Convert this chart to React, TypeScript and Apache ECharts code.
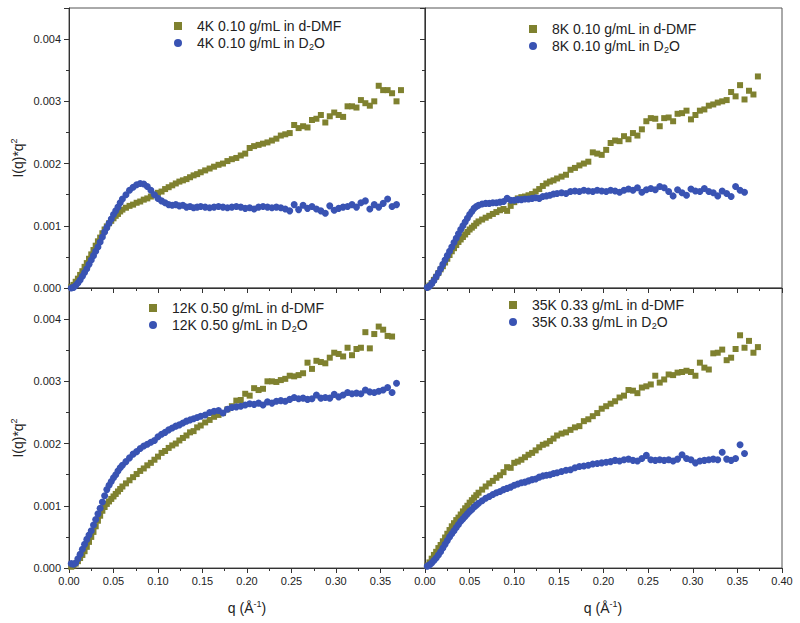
import React, { useEffect, useRef } from "react";
import * as echarts from "echarts";

// Shared q grid (Å^-1)
const Q = [
  0.0025, 0.005, 0.0075, 0.01, 0.0125, 0.015, 0.0175, 0.02, 0.0225, 0.025, 0.0275, 0.03,
  0.0325, 0.035, 0.0375, 0.04, 0.0425, 0.045, 0.0475, 0.05, 0.0525, 0.055, 0.0575, 0.06,
  0.064, 0.068, 0.072, 0.076, 0.08, 0.084, 0.088, 0.092, 0.096, 0.1, 0.104, 0.108,
  0.112, 0.116, 0.12, 0.124, 0.128, 0.132, 0.136, 0.14, 0.144, 0.148,
  0.153, 0.158, 0.163, 0.168, 0.173, 0.178, 0.183, 0.188, 0.193, 0.198, 0.203, 0.208,
  0.213, 0.218, 0.223, 0.228, 0.233, 0.238, 0.243, 0.248, 0.253, 0.258, 0.263, 0.268,
  0.273, 0.278, 0.283, 0.288, 0.293, 0.298, 0.303, 0.308, 0.313, 0.318, 0.323, 0.328,
  0.333, 0.338, 0.343, 0.348, 0.353, 0.358, 0.363, 0.368, 0.373,
];

// 4K 0.10 g/mL
const K4_DMF = [
  0.00002, 0.00005, 0.0001, 0.00015, 0.00021, 0.00027, 0.00034, 0.0004, 0.00047, 0.00054, 0.00061, 0.00068,
  0.00075, 0.00081, 0.00088, 0.00094, 0.00099, 0.00104, 0.00108, 0.00112, 0.00116, 0.00119, 0.00123, 0.00126,
  0.00129, 0.00132, 0.00134, 0.00137, 0.00139, 0.00142, 0.00144, 0.00147, 0.0015, 0.00153, 0.00155, 0.00159,
  0.00162, 0.00165, 0.00168, 0.00171, 0.00173, 0.00175, 0.00178, 0.00181, 0.00183, 0.00186,
  0.00189, 0.00192, 0.00195, 0.00198, 0.002, 0.00204, 0.00207, 0.00209, 0.00213, 0.00216,
  0.00225, 0.00228, 0.0023, 0.00232, 0.00234, 0.00237, 0.0024, 0.00245, 0.00247, 0.00249,
  0.00262, 0.00257, 0.0026, 0.00258, 0.0027, 0.00272, 0.00278, 0.00266, 0.00276, 0.00282,
  0.00278, 0.00275, 0.00292, 0.00292, 0.0029, 0.00302, 0.00297, 0.00293, 0.003, 0.00325,
  0.00318, 0.00318, 0.00313, 0.003, 0.00318,
];
const K4_D2O = [
  0, 0.00001, 0.00004, 0.00008, 0.00013, 0.00019, 0.00025, 0.00031, 0.00038, 0.00045, 0.00052, 0.00059,
  0.00066, 0.00074, 0.00082, 0.0009, 0.00097, 0.00104, 0.00111, 0.00118, 0.00124, 0.0013, 0.00137, 0.00143,
  0.0015, 0.00157, 0.00162, 0.00166, 0.00168, 0.00167, 0.00163, 0.00157, 0.0015, 0.00144, 0.0014, 0.00137,
  0.00134, 0.00133, 0.00134, 0.00132, 0.00133, 0.0013, 0.00131, 0.00129, 0.0013, 0.00131,
  0.0013, 0.00129, 0.0013, 0.00131, 0.0013, 0.00129, 0.0013, 0.00131, 0.0013, 0.00128,
  0.00129, 0.00127, 0.0013, 0.00131, 0.0013, 0.00129, 0.0013, 0.00129, 0.00127, 0.00124,
  0.00134, 0.00126, 0.00133, 0.00128, 0.00131, 0.00127, 0.00124, 0.0012, 0.00132, 0.00125,
  0.00128, 0.0013, 0.00131, 0.00134, 0.0013, 0.00137, 0.0014, 0.00127, 0.00134, 0.0013,
  0.00136, 0.00143, 0.00131, 0.00134,
];

// 8K 0.10 g/mL
const K8_DMF = [
  0.00001, 0.00004, 0.00008, 0.00013, 0.00018, 0.00024, 0.0003, 0.00035, 0.00041, 0.00047, 0.00053, 0.00059,
  0.00064, 0.00069, 0.00074, 0.00078, 0.00082, 0.00086, 0.0009, 0.00094, 0.00097, 0.001, 0.00104, 0.00107,
  0.0011, 0.00113, 0.00116, 0.00119, 0.00122, 0.00125, 0.00127, 0.00124, 0.00132, 0.00138, 0.00144, 0.00146,
  0.00147, 0.00149, 0.00151, 0.00155, 0.00159, 0.00164, 0.00168, 0.00171, 0.00173, 0.00176,
  0.00179, 0.00182, 0.0019, 0.00193, 0.00197, 0.002, 0.00203, 0.00218, 0.00216, 0.00214,
  0.00222, 0.00233, 0.00237, 0.00236, 0.00244, 0.00239, 0.00249, 0.00245, 0.00255, 0.00268,
  0.00273, 0.00272, 0.0026, 0.00273, 0.00274, 0.00268, 0.0028, 0.00281, 0.00285, 0.00271,
  0.00278, 0.00285, 0.00287, 0.00293, 0.00295, 0.00298, 0.003, 0.00302, 0.00315, 0.00308,
  0.00326, 0.00303, 0.00317, 0.00311, 0.0034,
];
const K8_D2O = [
  0.00001, 0.00003, 0.00007, 0.00012, 0.00018, 0.00024, 0.00031, 0.00038, 0.00045, 0.00052, 0.00059, 0.00066,
  0.00073, 0.0008, 0.00087, 0.00094, 0.001, 0.00106, 0.00112, 0.00118, 0.00123, 0.00128, 0.00131, 0.00133,
  0.00135, 0.00136, 0.00136, 0.00137, 0.00137, 0.00138, 0.00139, 0.00144, 0.00141, 0.00141, 0.00142, 0.00142,
  0.00143, 0.00143, 0.00144, 0.00145, 0.00144, 0.00147, 0.00148, 0.00149, 0.00151, 0.00152,
  0.00153, 0.00152, 0.00155, 0.00156, 0.00155, 0.00157, 0.00156, 0.00155, 0.00157, 0.00156,
  0.00155, 0.00157, 0.00156, 0.00154, 0.00157, 0.00159, 0.00157, 0.00161, 0.00154, 0.00158,
  0.0016, 0.00158, 0.00163, 0.00161, 0.00155, 0.00148, 0.00158, 0.00153, 0.00149, 0.00159,
  0.00156, 0.00155, 0.0016, 0.00155, 0.00153, 0.00148, 0.00156, 0.00152, 0.00147, 0.00163,
  0.00157, 0.00154,
];

// 12K 0.50 g/mL
const K12_DMF = [
  0.00002, 0.00004, 0.00007, 0.00011, 0.00016, 0.00021, 0.00027, 0.00034, 0.00042, 0.0005, 0.00058, 0.00067,
  0.00076, 0.00084, 0.00092, 0.00098, 0.00103, 0.00107, 0.00111, 0.00115, 0.00119, 0.00123, 0.00127, 0.00131,
  0.00136, 0.00141, 0.00146, 0.00151, 0.00156, 0.0016, 0.00165, 0.00169, 0.00174, 0.00179, 0.00185, 0.00188,
  0.00193, 0.00197, 0.002, 0.00205, 0.00209, 0.00213, 0.00218, 0.0022, 0.00226, 0.00229,
  0.00234, 0.00238, 0.00243, 0.00246, 0.00249, 0.00255, 0.0026, 0.00269, 0.0027, 0.0028,
  0.00277, 0.00289, 0.00286, 0.00288, 0.003, 0.003, 0.00299, 0.00302, 0.00304, 0.00309,
  0.00308, 0.0031, 0.00313, 0.0033, 0.0032, 0.00333, 0.00331, 0.00329, 0.00338, 0.00346,
  0.00344, 0.0034, 0.00354, 0.00342, 0.00352, 0.00354, 0.00379, 0.00353, 0.00376, 0.00388,
  0.00383, 0.00373, 0.00372,
];
const K12_D2O = [
  0.00007, 0.00006, 0.00008, 0.00015, 0.00022, 0.0003, 0.00038, 0.00046, 0.00053, 0.0006, 0.00069, 0.00078,
  0.00087, 0.00096, 0.00106, 0.00116, 0.00126, 0.00133, 0.00139, 0.00145, 0.0015, 0.00156, 0.00161, 0.00165,
  0.00171, 0.00177, 0.00183, 0.00187, 0.00192, 0.00196, 0.00199, 0.00202, 0.00205, 0.00211, 0.00215, 0.00218,
  0.00222, 0.00225, 0.00228, 0.0023, 0.00233, 0.00236, 0.00238, 0.0024, 0.00242, 0.00244,
  0.00246, 0.0025, 0.00252, 0.00253, 0.00249, 0.00255, 0.00258, 0.00259, 0.0026, 0.00262,
  0.00264, 0.00263, 0.00265, 0.00262, 0.00267, 0.00265, 0.00268, 0.00269, 0.00268, 0.00271,
  0.00274, 0.00272, 0.00273, 0.00271, 0.00272, 0.00278, 0.00273, 0.00274, 0.00273, 0.00279,
  0.00275, 0.00278, 0.00282, 0.0028, 0.00281, 0.0028, 0.00286, 0.00283, 0.00282, 0.00284,
  0.00286, 0.0029, 0.00282, 0.00297,
];

// 35K 0.33 g/mL
const K35_DMF = [
  0.00004, 0.00009, 0.00015, 0.00021, 0.00026, 0.00032, 0.00037, 0.00043, 0.00049, 0.00055, 0.00061, 0.00067,
  0.00072, 0.00077, 0.00081, 0.00086, 0.00091, 0.00096, 0.001, 0.00105, 0.00109, 0.00113, 0.00117, 0.00121,
  0.00126, 0.00131, 0.00136, 0.0014, 0.00145, 0.00149, 0.00154, 0.00162, 0.00161, 0.00169, 0.00171, 0.00174,
  0.00178, 0.00182, 0.00185, 0.00189, 0.00194, 0.00198, 0.002, 0.00204, 0.00208, 0.00213,
  0.00216, 0.00218, 0.00222, 0.00226, 0.00228, 0.00236, 0.00239, 0.00244, 0.00249, 0.00256,
  0.0026, 0.00264, 0.00268, 0.00274, 0.00277, 0.00286, 0.00285, 0.00281, 0.0029, 0.00292,
  0.00295, 0.00309, 0.00298, 0.00303, 0.00311, 0.0031, 0.00314, 0.00315, 0.00317, 0.00315,
  0.00309, 0.0033, 0.00322, 0.00319, 0.00345, 0.00346, 0.00351, 0.00334, 0.00338, 0.00352,
  0.00374, 0.00354, 0.00365, 0.00346, 0.00355,
];
const K35_D2O = [
  0.00003, 0.00005, 0.00008, 0.00012, 0.00016, 0.00021, 0.00026, 0.00032, 0.00038, 0.00044, 0.0005, 0.00055,
  0.0006, 0.00065, 0.0007, 0.00075, 0.00079, 0.00083, 0.00087, 0.00091, 0.00094, 0.00098, 0.00101, 0.00104,
  0.00108, 0.00112, 0.00115, 0.00118, 0.00121, 0.00123, 0.00126, 0.00128, 0.0013, 0.00133, 0.00135, 0.00137,
  0.00138, 0.0014, 0.00142, 0.00143, 0.00146, 0.00148, 0.00149, 0.0015, 0.00152, 0.00153,
  0.00155, 0.00157, 0.00158, 0.00161, 0.00163, 0.00164, 0.00165, 0.00167, 0.00168, 0.00169,
  0.0017, 0.00171, 0.00173, 0.00172, 0.00174, 0.00175, 0.00173, 0.00172, 0.00176, 0.00181,
  0.00174, 0.00173, 0.00174, 0.00173, 0.00174, 0.00172, 0.00175, 0.00182, 0.00176, 0.00174,
  0.00169, 0.00172, 0.00173, 0.00174, 0.00175, 0.00174, 0.00186, 0.00175, 0.00173, 0.00176,
  0.00198, 0.00184,
];

const SERIES_NAMES = [
  ["4K 0.10 g/mL in d-DMF", "4K 0.10 g/mL in D2O"],
  ["8K 0.10 g/mL in d-DMF", "8K 0.10 g/mL in D2O"],
  ["12K 0.50 g/mL in d-DMF", "12K 0.50 g/mL in D2O"],
  ["35K 0.33 g/mL in d-DMF", "35K 0.33 g/mL in D2O"],
];
const SERIES_VALUES = [
  [K4_DMF, K4_D2O],
  [K8_DMF, K8_D2O],
  [K12_DMF, K12_D2O],
  [K35_DMF, K35_D2O],
];

const OLIVE = "#7f812f";
const BLUE = "#3953b3";
const INK = "#222";
const FONT = "Liberation Sans, Arial, Helvetica, sans-serif";

const GRIDS = [
  { left: 69, top: 8, width: 356, height: 280 },
  { left: 425, top: 8, width: 357, height: 280 },
  { left: 69, top: 288, width: 356, height: 280 },
  { left: 425, top: 288, width: 357, height: 280 },
];
const LEGEND_POS = [
  { left: 174, top: 18 },
  { left: 529, top: 21 },
  { left: 149, top: 300 },
  { left: 509, top: 297 },
];

const SQUARE_ICON = "path://M0,0L10,0L10,10L0,10Z";
const CIRCLE_ICON = "path://M10,5A5,5,0,1,1,0,5A5,5,0,1,1,10,5Z";

const pairs = (vals: number[]) => vals.map((v, i) => [Q[i], v]);

const NAME_RICH = {
  a: { fontSize: 14, fontFamily: FONT, fill: INK, color: INK, lineHeight: 18 },
  sup: { fontSize: 9, fontFamily: FONT, fill: INK, color: INK, verticalAlign: "top", lineHeight: 10 },
};

function buildOption(): any {
  const axisLineStyle = { color: "#333", width: 1 };
  const xAxis = GRIDS.map((_, i) => ({
    gridIndex: i,
    type: "value",
    min: 0,
    max: 0.4,
    interval: 0.05,
    axisLine: { show: true, onZero: false, lineStyle: axisLineStyle },
    axisTick: { show: true, inside: false, length: 5, lineStyle: axisLineStyle },
    minorTick: { show: true, splitNumber: 2, length: 3, lineStyle: axisLineStyle },
    splitLine: { show: false },
    minorSplitLine: { show: false },
    axisLabel: {
      show: i >= 2,
      formatter: (v: number) => v.toFixed(2),
      fontSize: 11,
      fontFamily: FONT,
      color: INK,
      margin: 7,
      showMinLabel: true,
      showMaxLabel: i === 3,
    },
  }));
  const yAxis = GRIDS.map((_, i) => ({
    gridIndex: i,
    type: "value",
    min: 0,
    max: 0.0045,
    interval: 0.001,
    axisLine: { show: true, onZero: false, lineStyle: axisLineStyle },
    axisTick: { show: true, inside: false, length: 5, lineStyle: axisLineStyle },
    minorTick: { show: true, splitNumber: 2, length: 3, lineStyle: axisLineStyle },
    splitLine: { show: false },
    minorSplitLine: { show: false },
    axisLabel: {
      show: i === 0 || i === 2,
      formatter: (v: number) => v.toFixed(3),
      fontSize: 11,
      fontFamily: FONT,
      color: INK,
      margin: 8,
      showMinLabel: true,
      showMaxLabel: false,
    },
  }));
  const series: any[] = [];
  SERIES_NAMES.forEach((names, i) => {
    series.push({
      type: "scatter",
      name: names[0],
      xAxisIndex: i,
      yAxisIndex: i,
      data: pairs(SERIES_VALUES[i][0]),
      symbol: "rect",
      symbolSize: 6,
      itemStyle: { color: OLIVE, opacity: 1 },
      silent: true,
      emphasis: { disabled: true },
    });
    series.push({
      type: "scatter",
      name: names[1],
      xAxisIndex: i,
      yAxisIndex: i,
      data: pairs(SERIES_VALUES[i][1]),
      symbol: "circle",
      symbolSize: 7,
      itemStyle: { color: BLUE, opacity: 1 },
      silent: true,
      emphasis: { disabled: true },
    });
  });
  const legend = SERIES_NAMES.map((names, i) => ({
    ...LEGEND_POS[i],
    orient: "vertical",
    itemWidth: 28,
    itemHeight: 8,
    itemGap: 1,
    padding: 0,
    selectedMode: false,
    data: [
      { name: names[0], icon: SQUARE_ICON },
      { name: names[1], icon: CIRCLE_ICON },
    ],
    formatter: (n: string) => n.replace("D2O", "D{sub|2}O"),
    textStyle: {
      fontSize: 14,
      fontFamily: FONT,
      color: INK,
      lineHeight: 16,
      rich: {
        sub: { fontSize: 9, fontFamily: FONT, color: INK, verticalAlign: "bottom", lineHeight: 9 },
      },
    },
  }));
  const yName = "{a|I(q)*q}{sup|2}";
  const xName = "{a|q (Å}{sup|-1}{a|)}";
  const graphic = [
    { type: "text", x: 18, y: 158, rotation: Math.PI / 2, style: { text: yName, rich: NAME_RICH, align: "center", verticalAlign: "middle", fill: INK } },
    { type: "text", x: 18, y: 438, rotation: Math.PI / 2, style: { text: yName, rich: NAME_RICH, align: "center", verticalAlign: "middle", fill: INK } },
    { type: "text", x: 247, y: 608, style: { text: xName, rich: NAME_RICH, align: "center", verticalAlign: "middle", fill: INK } },
    { type: "text", x: 603, y: 608, style: { text: xName, rich: NAME_RICH, align: "center", verticalAlign: "middle", fill: INK } },
  ];
  return {
    animation: false,
    backgroundColor: "#fff",
    grid: GRIDS.map((g) => ({ ...g, show: true, borderColor: "#555", borderWidth: 1, backgroundColor: "transparent" })),
    xAxis,
    yAxis,
    legend,
    series,
    graphic,
  };
}

export default function App() {
  const ref = useRef<HTMLDivElement>(null);
  useEffect(() => {
    if (!ref.current) return;
    const chart = echarts.init(ref.current, null, { renderer: "svg" });
    chart.setOption(buildOption());
    return () => chart.dispose();
  }, []);
  return (
    <div
      ref={ref}
      style={{ position: "fixed", left: 0, top: 0, width: 800, height: 623, background: "#fff" }}
    />
  );
}
